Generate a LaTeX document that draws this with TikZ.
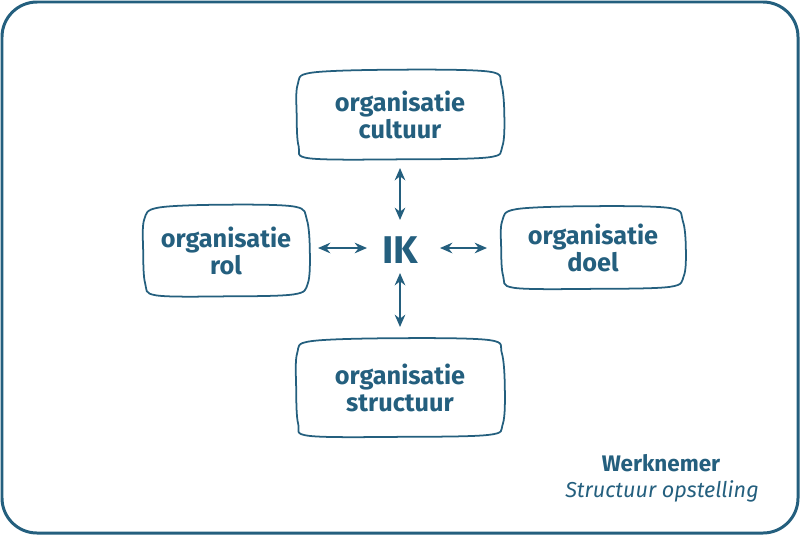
\documentclass[tikz,border=0pt]{standalone}
\usepackage{fontspec}
\setmainfont{Fira Sans}
\usetikzlibrary{arrows.meta}
\definecolor{ikblue}{HTML}{245F7E}
\tikzset{>={Stealth[length=7pt,width=6pt]}}
\tikzset{
  orgbox/.style={text=ikblue, align=center, inner sep=0pt,
    font=\fontsize{14.4}{15.5}\selectfont\bfseries},
  boxline/.style={draw=ikblue, line width=1pt},
  ikarrow/.style={<->, draw=ikblue, line width=1.3pt}
}
% hand drawn outline round a node
\newcommand\handbox[1]{%
  \draw[boxline] plot[smooth cycle, tension=0.55] coordinates {
      ([shift={(14,1)}]#1.north west) ([shift={(0,-2)}]#1.north)
      ([shift={(-13,0)}]#1.north east) ([shift={(-1,13)}]#1.north east)
      ([shift={(2,0)}]#1.east) ([shift={(0,-12)}]#1.south east)
      ([shift={(-14,-1)}]#1.south east) ([shift={(0,1)}]#1.south)
      ([shift={(12,0)}]#1.south west) ([shift={(1,-12)}]#1.south west)
      ([shift={(-1,0)}]#1.west) ([shift={(0,13)}]#1.north west)};}

\begin{document}
\begin{tikzpicture}[x=0.02cm, y=-0.02cm]
    % frame
    \useasboundingbox (0,0) rectangle (800,535);
    \draw[ikblue, line width=1.7pt, rounded corners=0.7cm]
    (2,2) rectangle (798,533);

    % the four boxes
    \node[orgbox, minimum width=4.08cm, minimum height=1.72cm]
    (cultuur) at (400,115) {organisatie\\cultuur};
    \node[orgbox, minimum width=3.26cm, minimum height=1.76cm]
    (rol) at (226,251) {organisatie\\rol};
    \node[orgbox, minimum width=3.62cm, minimum height=1.58cm]
    (doel) at (593,248) {organisatie\\doel};
    \node[orgbox, minimum width=4.10cm, minimum height=1.90cm]
    (structuur) at (400,388) {organisatie\\structuur};
    \foreach \n in {cultuur,rol,doel,structuur} {
        \handbox{\n}
      }

    % center
    \node[text=ikblue, font=\fontsize{22}{26}\selectfont\bfseries]
    (ik) at (400,250) {IK};

    % arrow ends
    \coordinate (ta) at (400,168);
    \coordinate (tb) at (400,220);
    \coordinate (ba) at (400,273);
    \coordinate (bb) at (400,327);
    \coordinate (la) at (318,248);
    \coordinate (lb) at (367,248);
    \coordinate (ra) at (440,248);
    \coordinate (rb) at (487,248);
    \foreach \a/\b in {ta/tb,ba/bb,la/lb,ra/rb} {
        \draw[ikarrow] (\a) -- (\b);
      }

    % caption
    \node[text=ikblue, font=\fontsize{12.8}{15}\selectfont\bfseries]
    (werk) at (661,463) {Werknemer};
    \node[text=ikblue, font=\fontsize{12.3}{15}\selectfont\itshape]
    (opst) at (662,491) {Structuur opstelling};
  \end{tikzpicture}
\end{document}
